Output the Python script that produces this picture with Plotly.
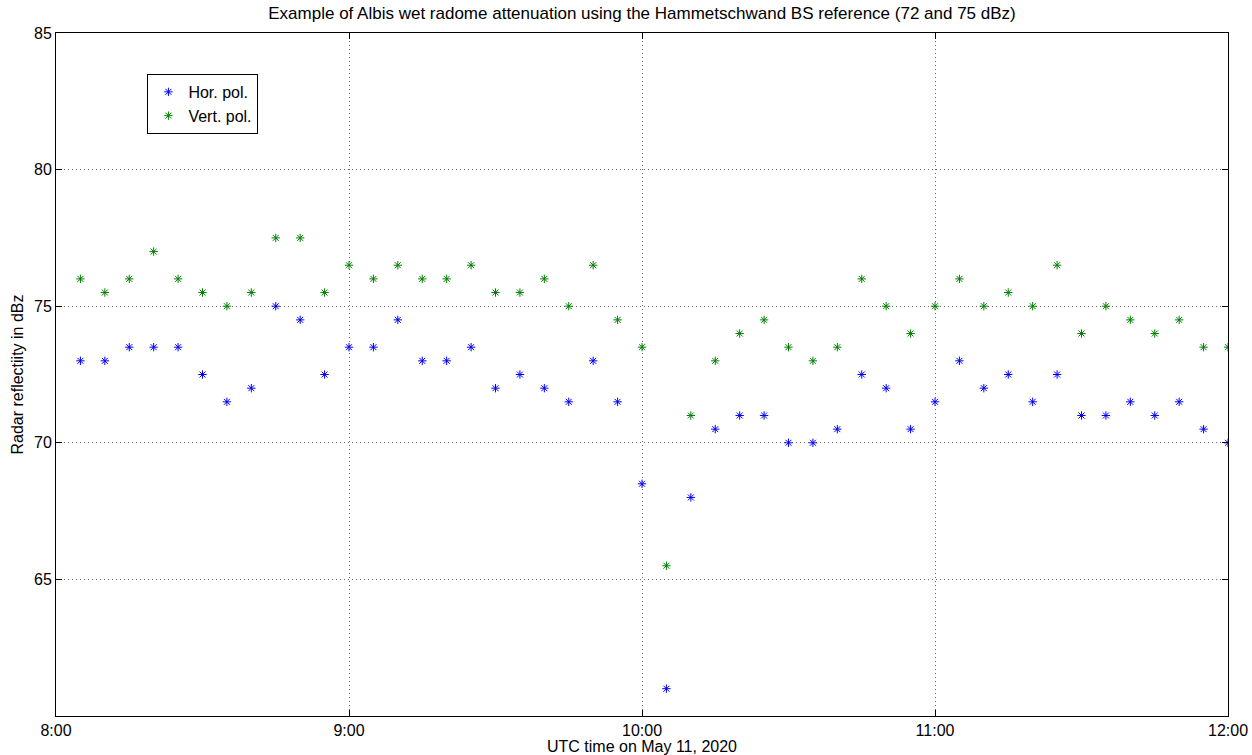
import plotly.graph_objects as go

times = ["08:05","08:10","08:15","08:20","08:25","08:30","08:35","08:40","08:45","08:50","08:55",
         "09:00","09:05","09:10","09:15","09:20","09:25","09:30","09:35","09:40","09:45","09:50","09:55",
         "10:00","10:05","10:10","10:15","10:20","10:25","10:30","10:35","10:40","10:45","10:50","10:55",
         "11:00","11:05","11:10","11:15","11:20","11:25","11:30","11:35","11:40","11:45","11:50","11:55",
         "12:00"]
hor = [73,73,73.5,73.5,73.5,72.5,71.5,72,75,74.5,72.5,
       73.5,73.5,74.5,73,73,73.5,72,72.5,72,71.5,73,71.5,
       68.5,61,68,70.5,71,71,70,70,70.5,72.5,72,70.5,
       71.5,73,72,72.5,71.5,72.5,71,71,71.5,71,71.5,70.5,
       70]
vert = [76,75.5,76,77,76,75.5,75,75.5,77.5,77.5,75.5,
        76.5,76,76.5,76,76,76.5,75.5,75.5,76,75,76.5,74.5,
        73.5,65.5,71,73,74,74.5,73.5,73,73.5,76,75,74,
        75,76,75,75.5,75,76.5,74,75,74.5,74,74.5,73.5,
        73.5]
x_ticks = ["08:00","09:00","10:00","11:00","12:00"]
x_tick_labels = ["8:00","9:00","10:00","11:00","12:00"]
y_ticks = [65,70,75,80,85]

day = "2020-05-11 "
xs = [day + t for t in times]

FONT = "Liberation Sans, Arial"

fig = go.Figure()
fig.add_trace(go.Scatter(x=xs, y=hor, mode="markers", name="Hor. pol.",
                         marker=dict(symbol="asterisk-open", size=7, color="blue",
                                     line=dict(color="blue", width=1))))
fig.add_trace(go.Scatter(x=xs, y=vert, mode="markers", name="Vert. pol.",
                         marker=dict(symbol="asterisk-open", size=7, color="#008000",
                                     line=dict(color="#008000", width=1))))

axis_common = dict(showline=True, linecolor="black", linewidth=1, mirror="ticks",
                   ticks="inside", ticklen=6, tickcolor="black",
                   showgrid=True, gridcolor="#666666", griddash="1px,3px", gridwidth=1,
                   zeroline=False, automargin=False,
                   tickfont=dict(family=FONT, size=16, color="black"))

fig.update_layout(
    width=1252, height=755,
    paper_bgcolor="white", plot_bgcolor="white",
    margin=dict(l=56, r=24, t=33, b=39),
    title=dict(text="Example of Albis wet radome attenuation using the Hammetschwand BS reference (72 and 75 dBz)",
               xref="paper", x=0.5, xanchor="center", y=0.99, yanchor="top",
               font=dict(family=FONT, size=17, color="black")),
    xaxis=dict(range=[day + "08:00", day + "12:00"],
               tickvals=[day + t for t in x_ticks], ticktext=x_tick_labels,
               title=dict(text="UTC time on May 11, 2020", standoff=1,
                          font=dict(family=FONT, size=16, color="black")),
               **axis_common),
    yaxis=dict(range=[60, 85], tickvals=y_ticks,
               title=dict(text="Radar reflectiity in dBz", standoff=6,
                          font=dict(family=FONT, size=16, color="black")),
               **axis_common),
    legend=dict(x=0.078, y=0.94, xanchor="left", yanchor="top",
                bgcolor="white", bordercolor="black", borderwidth=1,
                font=dict(family=FONT, size=16, color="black"),
                itemwidth=30, tracegroupgap=0),
    showlegend=True,
)

fig.write_html("out.html", config={"displayModeBar": False},
               post_script="document.body.style.margin='0';document.body.style.overflow='hidden';")
